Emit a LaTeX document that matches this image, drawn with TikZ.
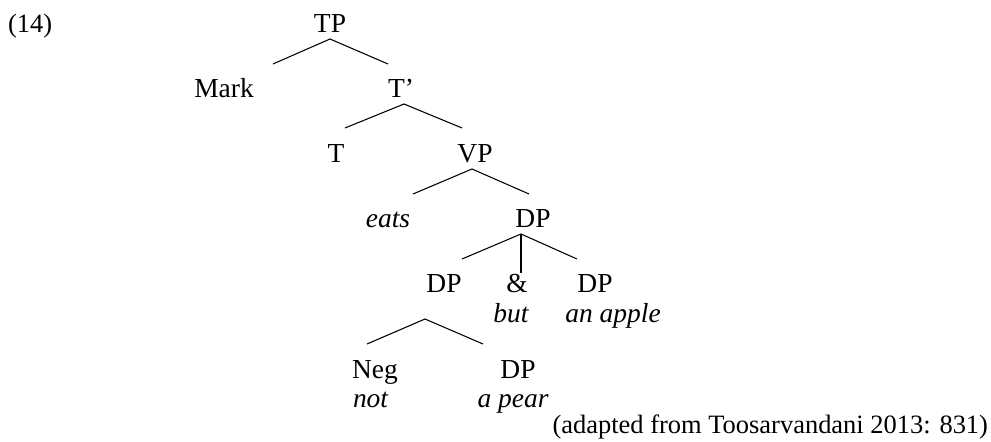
\documentclass[tikz,border=0pt]{standalone}
\usepackage{fontspec}
\setmainfont{Liberation Serif}
\begin{document}
\begin{tikzpicture}[x=0.75pt,y=-0.75pt,
  txt/.style={inner sep=0pt,outer sep=0pt,anchor=base,font=\fontsize{19.85}{22}\selectfont},
  lab/.style={inner sep=0pt,outer sep=0pt,anchor=base,font=\fontsize{20.6}{23}\selectfont},
  ilab/.style={lab,font=\fontsize{20.6}{23}\selectfont\itshape},
  branch/.style={line width=0.8pt}]
\useasboundingbox (0,0) rectangle (991,442);
% labels
\node[txt,anchor=base west] (ex) at (8,33) {(14)};
\node[lab] (TP) at (330,33) {TP};
\node[lab] (Mark) at (224,98) {Mark};
\node[lab] (Tbar) at (401,98) {T’};
\node[lab] (T) at (336,162) {T};
\node[lab] (VP) at (475,162) {VP};
\node[ilab] (eats) at (388,227) {eats};
\node[lab] (DPa) at (533,227) {DP};
\node[lab] (DPb) at (444,292) {DP};
\node[lab] (amp) at (517,292) {\&};
\node[lab] (DPc) at (595,292) {DP};
\node[ilab] (but) at (511,322) {but};
\node[ilab] (apple) at (613,322) {an apple};
\node[lab] (Neg) at (375,378) {Neg};
\node[lab] (DPd) at (518,378) {DP};
\node[ilab,anchor=base west] (not) at (353,407) {not};
\node[ilab] (pear) at (513,407) {a pear};
\node[txt,anchor=base east] (src) at (988,433) {(adapted from Toosarvandani 2013: 831)};
% branch points
\coordinate (tpA) at (330,39);
\coordinate (tpL) at (273,64);
\coordinate (tpR) at (388,64);
\coordinate (tbA) at (404,104);
\coordinate (tbL) at (345,128);
\coordinate (tbR) at (462,128);
\coordinate (vpA) at (472,169);
\coordinate (vpL) at (413,194);
\coordinate (vpR) at (529,194);
\coordinate (dpA) at (521,234);
\coordinate (dpL) at (462,259);
\coordinate (dpM) at (521,273);
\coordinate (dpR) at (577,259);
\coordinate (dbA) at (425,319);
\coordinate (dbL) at (367,344);
\coordinate (dbR) at (483,344);
% branches
\draw[branch] (tpL) -- (tpA) -- (tpR);
\draw[branch] (tbL) -- (tbA) -- (tbR);
\draw[branch] (vpL) -- (vpA) -- (vpR);
\draw[branch] (dpL) -- (dpA) -- (dpR);
\draw[branch] (dpA) -- (dpM);
\draw[branch] (dbL) -- (dbA) -- (dbR);
\end{tikzpicture}
\end{document}
